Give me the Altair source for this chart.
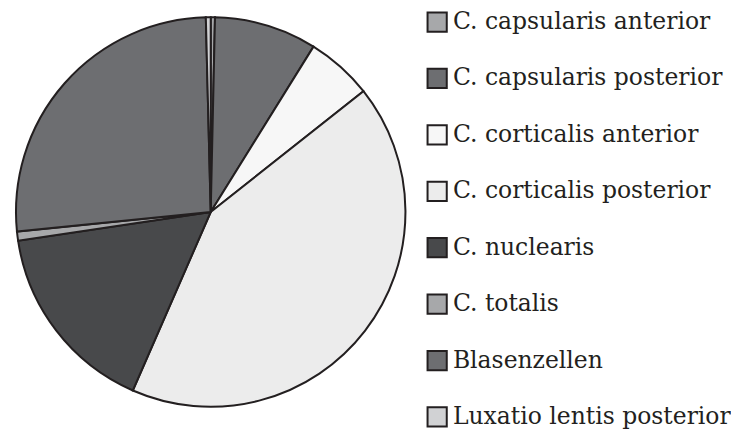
import altair as alt
import pandas as pd

categories = [
    "C. capsularis anterior",
    "C. capsularis posterior",
    "C. corticalis anterior",
    "C. corticalis posterior",
    "C. nuclearis",
    "C. totalis",
    "Blasenzellen",
    "Luxatio lentis posterior",
]
values = [0.35, 8.5, 5.5, 42.2, 16.1, 0.75, 26.2, 0.4]
colors = ["#a7a8aa", "#6d6e71", "#f7f7f7", "#ececec", "#48494b", "#a7a8aa", "#6d6e71", "#d1d2d4"]

df = pd.DataFrame({"cat": categories, "val": values, "idx": list(range(len(categories)))})

chart = alt.Chart(df).mark_arc(
    outerRadius=195, stroke="#231f20", strokeWidth=2
).encode(
    theta=alt.Theta("val:Q", stack=True),
    order=alt.Order("idx:Q"),
    color=alt.Color(
        "cat:N",
        sort=categories,
        scale=alt.Scale(domain=categories, range=colors),
        legend=alt.Legend(
            title=None,
            orient="none",
            legendX=418,
            legendY=2,
            symbolType="square",
            symbolSize=370,
            symbolStrokeColor="#231f20",
            symbolStrokeWidth=2,
            labelFont="DejaVu Serif",
            labelFontSize=23.5,
            labelColor="#231f20",
            labelLimit=400,
            rowPadding=28.5,
            labelOffset=4,
            padding=0,
        ),
    ),
).properties(width=406, height=408, padding=0).configure_view(stroke=None)

chart.save("out.html", embed_options={"renderer": "svg", "actions": False})
